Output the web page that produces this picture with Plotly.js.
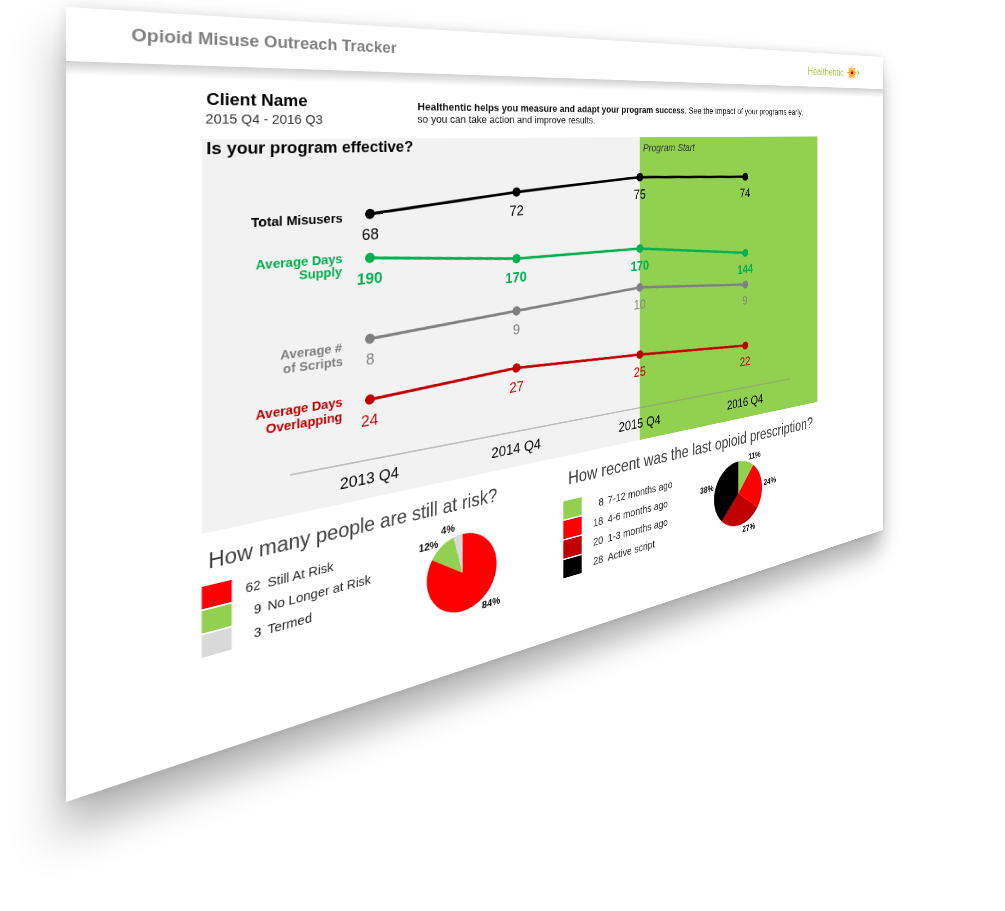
<!DOCTYPE html>
<html><head><meta charset="utf-8">
<script src="https://cdn.plot.ly/plotly-3.0.1.min.js"></script>
<style>
html,body{margin:0;padding:0;background:#fff;width:1005px;height:911px;overflow:hidden;}
#sheet{position:absolute;left:0;top:0;width:1220px;height:795px;background:#fff;transform-origin:0 0;
transform:matrix3d(1.16238,0.072787,0,0.00055803, 0,1,0,0, 0,0,1,0, 66,7,0,1);
box-shadow:-2px 30px 42px rgba(0,0,0,0.30), 0 0 14px rgba(0,0,0,0.12);}
#plot{position:absolute;left:0;top:0;width:1220px;height:795px;}
#plot path.textline{display:none;}
#hdr{position:absolute;left:0;top:54px;width:1220px;height:14px;background:linear-gradient(rgba(0,0,0,0.18),rgba(0,0,0,0));pointer-events:none;}
</style></head>
<body>
<div id="sheet"><div id="plot"></div><div id="hdr"></div></div>
<script>
// ---------- data ----------
const quarters = ['2013 Q4', '2014 Q4', '2015 Q4', '2016 Q4'];
const totalMisusers = [68, 72, 75, 74];
const avgDaysSupply = [190, 170, 170, 144];
const avgScripts = [8, 9, 10, 9];
const avgDaysOverlap = [24, 27, 25, 22];
const seriesNames = [['Total Misusers'], ['Average Days', 'Supply'], ['Average #', 'of Scripts'], ['Average Days', 'Overlapping']];
const programStart = '2015 Q4';

const riskCounts = [62, 9, 3];
const riskLabels = ['Still At Risk', 'No Longer at Risk', 'Termed'];
const recentCounts = [8, 18, 20, 28];
const recentLabels = ['7-12 months ago', '4-6 months ago', '1-3 months ago', 'Active script'];

// ---------- styles / layout ----------
const W = 1220, H = 795;
const px = u => u / W, py = v => 1 - v / H;
const FONT = 'Liberation Sans, Arial, sans-serif';
const NARROW = 'Liberation Sans Narrow, Arial Narrow, Liberation Sans, Arial, sans-serif';
const seriesValues = [totalMisusers, avgDaysSupply, avgScripts, avgDaysOverlap];
const seriesColors = ['#000000', '#00b050', '#808080', '#c00000'];
const seriesRanges = [[-53.03, 114.83], [-502.8, 553.3], [-25.05, 36.58], [-71.46, 142.53]];
const labelShifts = [[-3], [2, -13], [-6, -22], [3, -14]];
const axisIds = ['y', 'y2', 'y3', 'y4'];
const riskColors = ['#ff0000', '#92d050', '#d9d9d9'];
const recentColors = ['#92d050', '#ff0000', '#c00000', '#000000'];

const traces = [];
seriesValues.forEach((vals, k) => {
  traces.push({
    type: 'scatter', mode: 'lines+markers', x: quarters, y: vals, yaxis: axisIds[k],
    line: {color: seriesColors[k], width: 3.5}, marker: {size: 12, color: seriesColors[k]},
    hoverinfo: 'skip', cliponaxis: false, showlegend: false
  });
});

function pieTrace(values, labels, colors, cu, cv, r) {
  return {
    type: 'pie', values: values, labels: labels, sort: false, direction: 'clockwise', rotation: 0,
    marker: {colors: colors, line: {width: 0}},
    textposition: 'outside', texttemplate: '%{percent:.0%}',
    outsidetextfont: {size: 13, color: '#111', family: FONT, weight: 'bold'},
    domain: {x: [px(cu - r), px(cu + r)], y: [py(cv + r), py(cv - r)]},
    hoverinfo: 'skip', showlegend: false
  };
}
traces.push(pieTrace(riskCounts, riskLabels, riskColors, 438.4, 673.7, 48));
traces.push(pieTrace(recentCounts, recentLabels, recentColors, 896.2, 668, 48));

const ann = [];
function txt(u, v, text, size, color, opts) {
  opts = opts || {};
  ann.push({xref: 'paper', yref: 'paper', x: px(u), y: py(v), text: text, showarrow: false,
    xanchor: opts.anchor || 'left', yanchor: 'middle',
    font: {size: size, color: color, family: opts.family || FONT, weight: opts.weight || 'normal'}});
}
// header
txt(58, 25, 'Opioid Misuse Outreach Tracker', 19, '#7f7f7f', {weight: 'bold'});
txt(1040, 29, 'Healthentic', 16.5, '#a9c94a');
txt(132, 90, 'Client Name', 19, '#000', {weight: 'bold'});
txt(131, 110.5, '2015 Q4 - 2016 Q3', 15, '#333');
txt(376, 95, '<b>Healthentic helps you measure and adapt your program success</b>. See the impact of your programs early,', 13.5, '#111');
txt(376, 110, 'so you can take action and improve results.', 13.5, '#111');
txt(132, 143, 'Is your program effective?', 19, '#000', {weight: 'bold'});
txt(716, 148, '<i>Program Start</i>', 15, '#333');

// series labels and value labels
seriesValues.forEach((vals, k) => {
  seriesNames[k].forEach((line, j) => {
    ann.push({xref: 'paper', yref: axisIds[k], x: px(287), y: vals[0], yshift: labelShifts[k][j],
      text: line, showarrow: false, xanchor: 'right', yanchor: 'middle',
      font: {size: 15, color: seriesColors[k], family: FONT, weight: 'bold'}});
  });
  vals.forEach((v, i) => {
    ann.push({xref: 'x', yref: axisIds[k], x: quarters[i], y: v, yshift: -24, text: String(v),
      showarrow: false, xanchor: 'center', yanchor: 'middle',
      font: {size: 19, color: seriesColors[k], family: NARROW, weight: k === 1 ? 'bold' : 'normal'}});
  });
});

// pie sections
txt(134, 587, 'How many people are still at risk?', 23.5, '#404040');
txt(592, 587, 'How recent was the last opioid prescription?', 23.5, '#404040');

const shapes = [
  {type: 'rect', xref: 'paper', yref: 'paper', x0: px(129.3), x1: px(1064), y0: py(556), y1: py(133),
    fillcolor: '#f2f2f2', line: {width: 0}, layer: 'below'},
  {type: 'rect', xref: 'x', yref: 'paper', x0: quarters.indexOf(programStart), x1: 3.7811, y0: py(556), y1: py(133),
    fillcolor: '#92d050', line: {width: 0}, layer: 'below'},
  {type: 'line', xref: 'paper', yref: 'paper', x0: px(224), x1: px(1003), y0: py(511), y1: py(511),
    line: {color: '#8c8c8c', width: 1}, layer: 'below'}
];

function legendBlock(counts, labels, colors, sx0, sx1, top, numRight) {
  counts.forEach((c, i) => {
    const t = top + i * 26;
    shapes.push({type: 'rect', xref: 'paper', yref: 'paper', x0: px(sx0), x1: px(sx1), y0: py(t + 24), y1: py(t),
      fillcolor: colors[i], line: {width: 0}});
    txt(numRight, t + 12, String(c), 15, '#262626', {anchor: 'right'});
    txt(numRight + 3, t + 12, labels[i], 15, '#262626');
  });
}
legendBlock(riskCounts, riskLabels, riskColors, 129.3, 160.4, 613, 194);
legendBlock(recentCounts, recentLabels, recentColors, 586.4, 615.6, 616, 653);

// logo sun as a small svg image
let rays = '';
for (let a = 0; a < 16; a++) {
  const ang = a * Math.PI / 8, r0 = 3, r1 = (a % 2 ? 8 : 10.5);
  rays += `<line x1="${11 + r0 * Math.cos(ang)}" y1="${11 + r0 * Math.sin(ang)}" x2="${11 + r1 * Math.cos(ang)}" y2="${11 + r1 * Math.sin(ang)}" stroke="#f7a21b" stroke-width="2" stroke-linecap="round"/>`;
}
const sunSvg = `<svg xmlns="http://www.w3.org/2000/svg" width="34" height="22" viewBox="0 0 34 22">${rays}<rect x="9" y="9" width="4" height="4" fill="#b00000"/><path d="M24 8 L28 11 L24 14" fill="none" stroke="#92d050" stroke-width="2"/></svg>`;

const layout = {
  width: W, height: H, margin: {l: 0, r: 0, t: 0, b: 0},
  paper_bgcolor: '#ffffff', plot_bgcolor: 'rgba(0,0,0,0)', showlegend: false,
  font: {family: FONT},
  xaxis: {type: 'category', categoryorder: 'array', categoryarray: quarters,
    domain: [px(129.3), px(1064)], range: [-0.9564, 3.7811], anchor: 'free', position: py(511),
    showline: false, showgrid: false, zeroline: false, ticks: '', ticklabelstandoff: 8,
    tickfont: {size: 19, color: '#000', family: FONT}, fixedrange: true},
  shapes: shapes, annotations: ann,
  images: [{source: 'data:image/svg+xml;utf8,' + encodeURIComponent(sunSvg), xref: 'paper', yref: 'paper',
    x: px(1133), y: py(18), sizex: 34 / W, sizey: 22 / H, xanchor: 'left', yanchor: 'top', sizing: 'stretch', layer: 'above'}]
};
axisIds.forEach((id, k) => {
  const key = 'yaxis' + (k === 0 ? '' : (k + 1));
  layout[key] = {domain: [0, 1], range: seriesRanges[k], visible: false, fixedrange: true, anchor: 'x'};
  if (k > 0) layout[key].overlaying = 'y';
});

Plotly.newPlot('plot', traces, layout, {staticPlot: true, displayModeBar: false});
</script>
</body></html>
